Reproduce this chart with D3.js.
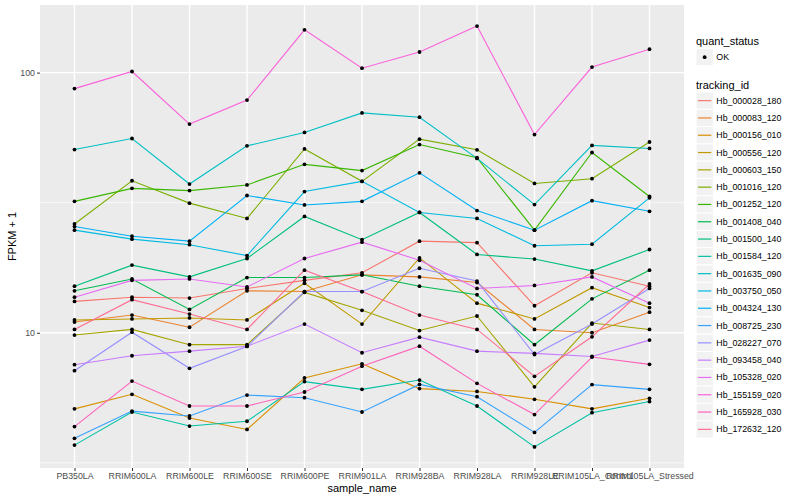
<!DOCTYPE html>
<html>
<head>
<meta charset="utf-8">
<script src="https://cdn.jsdelivr.net/npm/d3@7"></script>
<style>
  body { margin: 0; background: #fff; }
  text { font-family: "Liberation Sans", Arial, Helvetica, sans-serif; }
</style>
</head>
<body>
<svg id="chart"></svg>
<script>
// ---- data (FPKM + 1) ----
const sampleNames = ['PB350LA', 'RRIM600LA', 'RRIM600LE', 'RRIM600SE', 'RRIM600PE', 'RRIM901LA',
  'RRIM928BA', 'RRIM928LA', 'RRIM928LE', 'RRIM105LA_Control', 'RRIM105LA_Stressed'];

const trackingIds = ['Hb_000028_180', 'Hb_000083_120', 'Hb_000156_010', 'Hb_000556_120', 'Hb_000603_150',
  'Hb_001016_120', 'Hb_001252_120', 'Hb_001408_040', 'Hb_001500_140', 'Hb_001584_120',
  'Hb_001635_090', 'Hb_003750_050', 'Hb_004324_130', 'Hb_008725_230', 'Hb_028227_070',
  'Hb_093458_040', 'Hb_105328_020', 'Hb_155159_020', 'Hb_165928_030', 'Hb_172632_120'];

const hb_000028_180 = [13.2, 13.7, 13.6, 14.8, 15.9, 17.0, 22.5, 22.2, 12.7, 17.0, 15.1];
const hb_000083_120 = [11.0, 11.7, 10.5, 14.5, 14.4, 16.7, 16.4, 15.6, 10.3, 10.0, 12.0];
const hb_000156_010 = [5.1, 5.8, 4.7, 4.25, 6.7, 7.6, 6.1, 5.95, 5.55, 5.1, 5.6];
const hb_000556_120 = [11.2, 11.3, 11.4, 11.2, 15.5, 10.8, 19.4, 13.0, 11.3, 14.9, 12.5];
const hb_000603_150 = [9.8, 10.3, 9.0, 9.0, 14.3, 12.2, 10.2, 11.6, 6.2, 10.9, 10.3];
const hb_001016_120 = [26.2, 38.4, 31.5, 27.5, 50.9, 38.2, 55.5, 50.5, 37.5, 39.1, 54.1];
const hb_001252_120 = [32.0, 35.9, 35.2, 37.0, 44.4, 42.0, 52.9, 47.1, 24.8, 49.3, 33.4];
const hb_001408_040 = [14.5, 16.1, 12.3, 16.3, 16.3, 16.7, 15.1, 14.0, 9.0, 13.5, 17.4];
const hb_001500_140 = [15.1, 18.2, 16.4, 19.3, 28.0, 22.8, 29.0, 20.0, 19.2, 17.3, 20.9];
const hb_001584_120 = [3.7, 4.96, 4.38, 4.57, 6.49, 6.06, 6.58, 5.23, 3.64, 4.93, 5.44];
const hb_001635_090 = [50.6, 55.8, 37.3, 52.3, 58.9, 70.0, 67.4, 46.8, 31.1, 52.5, 51.1];
const hb_003750_050 = [24.8, 22.9, 21.8, 19.8, 34.9, 38.2, 29.0, 27.5, 21.6, 21.9, 33.0];
const hb_004324_130 = [25.6, 23.5, 22.5, 33.7, 31.0, 32.0, 41.2, 29.5, 24.8, 32.2, 29.3];
const hb_008725_230 = [3.93, 5.0, 4.79, 5.76, 5.63, 4.96, 6.33, 5.68, 4.14, 6.32, 6.06];
const hb_028227_070 = [7.15, 10.05, 7.3, 8.86, 14.4, 14.4, 17.7, 15.8, 8.25, 10.8, 14.8];
const hb_093458_040 = [7.54, 8.16, 8.5, 8.88, 10.8, 8.38, 9.62, 8.5, 8.33, 8.11, 9.37];
const hb_105328_020 = [13.7, 15.9, 16.1, 15.0, 19.3, 22.3, 19.0, 14.8, 15.2, 16.4, 13.0];
const hb_155159_020 = [86.8, 101, 63.4, 78.4, 146, 104, 120, 151, 57.8, 105, 123];
const hb_165928_030 = [4.36, 6.52, 5.23, 5.23, 5.92, 7.44, 8.88, 6.39, 4.85, 8.07, 7.56];
const hb_172632_120 = [10.3, 13.4, 11.8, 10.3, 17.4, 14.4, 11.7, 10.3, 6.8, 9.65, 15.4];

const fpkmSeries = [hb_000028_180, hb_000083_120, hb_000156_010, hb_000556_120, hb_000603_150,
  hb_001016_120, hb_001252_120, hb_001408_040, hb_001500_140, hb_001584_120,
  hb_001635_090, hb_003750_050, hb_004324_130, hb_008725_230, hb_028227_070,
  hb_093458_040, hb_105328_020, hb_155159_020, hb_165928_030, hb_172632_120];

const statusLevels = ['OK'];
const yTicks = [10, 100];

// ggplot default hue palette for 20 levels
const palette = ['#F8766D', '#EA8331', '#D89000', '#C09B00', '#A3A500', '#7CAE00', '#39B600', '#00BB4E',
  '#00BF7D', '#00C1A3', '#00BFC4', '#00BAE0', '#00B0F6', '#35A2FF', '#9590FF', '#C77CFF',
  '#E76BF3', '#FA62DB', '#FF62BC', '#FF6C91'];

// ---- chart ----
const width = 800, height = 500;
const margin = {top: 5, right: 116, bottom: 32, left: 40};
const innerW = width - margin.left - margin.right;
const innerH = height - margin.top - margin.bottom;

const series = trackingIds.map((id, i) => ({
  id: id,
  values: sampleNames.map((s, j) => ({sample: s, fpkm: fpkmSeries[i][j]}))
}));

const svg = d3.select('#chart')
    .attr('width', width)
    .attr('height', height);

const chart = svg.append('g')
    .attr('transform', `translate(${margin.left},${margin.top})`);

const xScale = d3.scalePoint()
    .domain(sampleNames)
    .range([0, innerW])
    .padding(0.6);

// log scale with ggplot-style 5% expansion in log space
const allVals = fpkmSeries.flat();
const lo = Math.log10(d3.min(allVals)), hi = Math.log10(d3.max(allVals));
const pad = (hi - lo) * 0.05;
const yScale = d3.scaleLog()
    .domain([Math.pow(10, lo - pad), Math.pow(10, hi + pad)])
    .range([innerH, 0]);

const colorScale = d3.scaleOrdinal().domain(trackingIds).range(palette);

// panel background
chart.append('rect')
    .attr('width', innerW)
    .attr('height', innerH)
    .attr('fill', '#EBEBEB');

// minor gridlines halfway between decades
const minorTicks = [Math.sqrt(10), Math.sqrt(1000), Math.sqrt(100000)]
    .filter(v => v > yScale.domain()[0] && v < yScale.domain()[1]);
chart.append('g').selectAll('line')
    .data(minorTicks)
  .join('line')
    .attr('x1', 0).attr('x2', innerW)
    .attr('y1', d => yScale(d)).attr('y2', d => yScale(d))
    .attr('stroke', '#fff').attr('stroke-width', 0.7);

chart.append('g').selectAll('line')
    .data(yTicks)
  .join('line')
    .attr('x1', 0).attr('x2', innerW)
    .attr('y1', d => yScale(d)).attr('y2', d => yScale(d))
    .attr('stroke', '#fff').attr('stroke-width', 1.4);

chart.append('g').selectAll('line')
    .data(sampleNames)
  .join('line')
    .attr('x1', d => xScale(d)).attr('x2', d => xScale(d))
    .attr('y1', 0).attr('y2', innerH)
    .attr('stroke', '#fff').attr('stroke-width', 1.4);

// axes
const xAxis = d3.axisBottom(xScale).tickSize(3).tickPadding(2);
const yAxis = d3.axisLeft(yScale).tickValues(yTicks).tickSize(3).tickPadding(2)
    .tickFormat(d3.format('d'));

const xAxisG = chart.append('g')
    .attr('transform', `translate(0,${innerH})`)
    .call(xAxis);
const yAxisG = chart.append('g').call(yAxis);

[xAxisG, yAxisG].forEach(g => {
  g.select('.domain').remove();
  g.selectAll('.tick line').attr('stroke', '#333333').attr('stroke-width', 1);
  g.selectAll('.tick text').attr('fill', '#4D4D4D').style('font-size', '8.8px');
});

// lines
const line = d3.line()
    .x(d => xScale(d.sample))
    .y(d => yScale(d.fpkm));

chart.append('g').selectAll('path')
    .data(series)
  .join('path')
    .attr('d', d => line(d.values))
    .attr('fill', 'none')
    .attr('stroke', d => colorScale(d.id))
    .attr('stroke-width', 1.1);

// points
chart.append('g').selectAll('circle')
    .data(series.flatMap(s => s.values))
  .join('circle')
    .attr('cx', d => xScale(d.sample))
    .attr('cy', d => yScale(d.fpkm))
    .attr('r', 1.9)
    .attr('fill', '#000');

// axis titles
svg.append('text')
    .attr('x', margin.left + innerW / 2)
    .attr('y', 492)
    .attr('text-anchor', 'middle')
    .style('font-size', '11px')
    .text('sample_name');

svg.append('text')
    .attr('transform', `translate(16,${margin.top + innerH / 2}) rotate(-90)`)
    .attr('text-anchor', 'middle')
    .style('font-size', '11px')
    .text('FPKM + 1');

// legends
const legendX = 696;
const keyW = 17.3, keyH = 17.3;

const legend = svg.append('g');

legend.append('text')
    .attr('x', legendX).attr('y', 44.5)
    .style('font-size', '11px')
    .text('quant_status');

const statusKeys = legend.append('g').selectAll('g')
    .data(statusLevels)
  .join('g')
    .attr('transform', (d, i) => `translate(${legendX},${48.5 + i * keyH})`);
statusKeys.append('rect')
    .attr('width', keyW).attr('height', keyH)
    .attr('fill', '#F2F2F2').attr('stroke', '#fff');
statusKeys.append('circle')
    .attr('cx', keyW / 2).attr('cy', keyH / 2).attr('r', 1.9)
    .attr('fill', '#000');
statusKeys.append('text')
    .attr('x', keyW + 3).attr('y', keyH / 2 + 3)
    .style('font-size', '8.8px')
    .text(d => d);

legend.append('text')
    .attr('x', legendX).attr('y', 89)
    .style('font-size', '11px')
    .text('tracking_id');

const idKeys = legend.append('g').selectAll('g')
    .data(trackingIds)
  .join('g')
    .attr('transform', (d, i) => `translate(${legendX},${92 + i * keyH})`);
idKeys.append('rect')
    .attr('width', keyW).attr('height', keyH)
    .attr('fill', '#F2F2F2').attr('stroke', '#fff');
idKeys.append('line')
    .attr('x1', 2).attr('x2', keyW - 2)
    .attr('y1', keyH / 2).attr('y2', keyH / 2)
    .attr('stroke', d => colorScale(d))
    .attr('stroke-width', 1.2);
idKeys.append('text')
    .attr('x', keyW + 3).attr('y', keyH / 2 + 3)
    .style('font-size', '8.8px')
    .text(d => d);
</script>
</body>
</html>
